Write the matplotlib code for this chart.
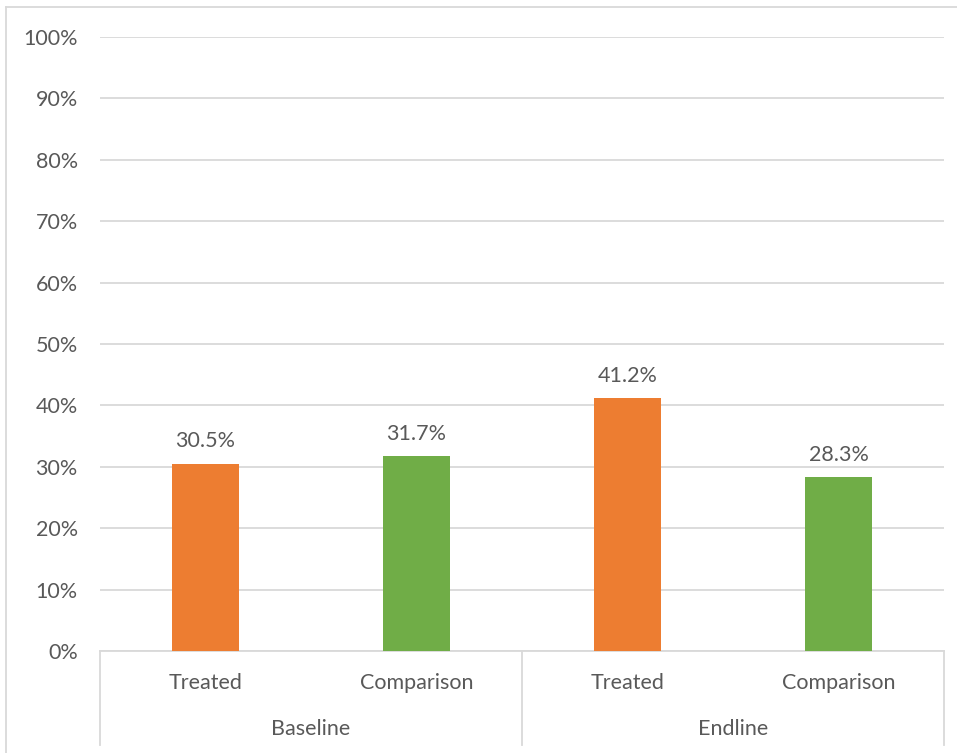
import matplotlib
matplotlib.use("Agg")
import matplotlib.pyplot as plt
from matplotlib.lines import Line2D

plt.rcParams['font.family'] = ['Lato', 'DejaVu Sans']

# data
groups = ["Baseline", "Endline"]
categories = ["Treated", "Comparison", "Treated", "Comparison"]
values = [30.5, 31.7, 41.2, 28.3]
bar_colors = ["#ED7D31", "#70AD47", "#ED7D31", "#70AD47"]
yticks = [0, 10, 20, 30, 40, 50, 60, 70, 80, 90, 100]

txt = "#595959"
grid = "#D9D9D9"
fs = 15.5

fig = plt.figure(figsize=(9.57, 7.53), dpi=100)
ax = fig.add_axes([100/957, 1 - 651/753, 844/957, 614/753])

x = list(range(len(values)))
ax.bar(x, values, width=0.32, color=bar_colors, zorder=3)
for xi, v in zip(x, values):
    ax.annotate(f"{v:.1f}%", (xi, v), xytext=(0, 9), textcoords="offset points",
                ha="center", va="bottom", fontsize=fs, color=txt)

ax.set_xlim(-0.5, len(values) - 0.5)
ax.set_ylim(0, 100)
ax.set_yticks(yticks)
ax.set_yticklabels([f"{t}%" for t in yticks])
ax.yaxis.grid(True, color=grid, linewidth=1.3, zorder=0)
ax.tick_params(axis="y", length=0, pad=16, labelsize=fs, labelcolor=txt)
ax.set_xticks([])
for s in ["left", "right", "top"]:
    ax.spines[s].set_visible(False)
ax.spines["bottom"].set_color(grid)
ax.spines["bottom"].set_linewidth(1.3)

# two-level category axis
tr = ax.get_xaxis_transform()
for xi, c in zip(x, categories):
    ax.text(xi, -0.052, c, transform=tr, ha="center", va="center",
            fontsize=fs, color=txt)
per = len(values) // len(groups)
for gi, g in enumerate(groups):
    ax.text(gi * per + (per - 1) / 2, -0.127, g, transform=tr, ha="center",
            va="center", fontsize=fs, color=txt)
for b in range(len(groups) + 1):
    ax.plot([b * per - 0.5] * 2, [0, -0.153], transform=tr, color=grid,
            linewidth=1.3, clip_on=False)

# chart border (left and top visible)
fig.add_artist(Line2D([6/957, 6/957], [0, 1 - 7/753], transform=fig.transFigure,
                      color=grid, linewidth=1.3))
fig.add_artist(Line2D([6/957, 1], [1 - 7/753] * 2, transform=fig.transFigure,
                      color=grid, linewidth=1.3))

fig.savefig("out.png", dpi=100)
